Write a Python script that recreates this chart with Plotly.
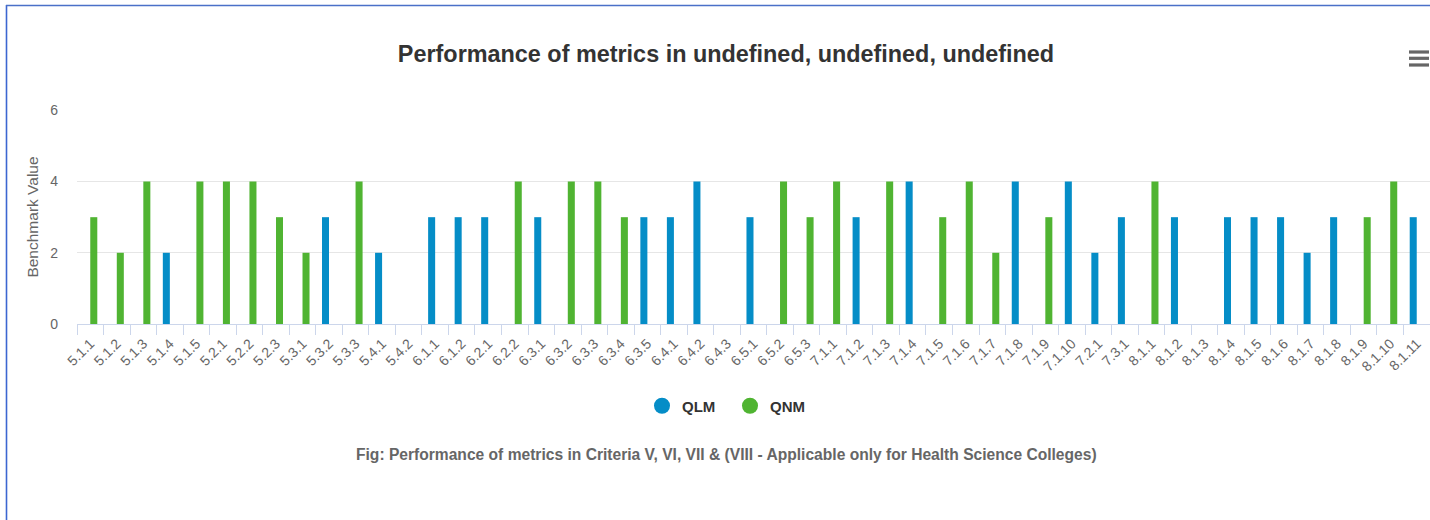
import plotly.graph_objects as go

categories = ["5.1.1", "5.1.2", "5.1.3", "5.1.4", "5.1.5", "5.2.1", "5.2.2", "5.2.3", "5.3.1", "5.3.2",
              "5.3.3", "5.4.1", "5.4.2", "6.1.1", "6.1.2", "6.2.1", "6.2.2", "6.3.1", "6.3.2", "6.3.3",
              "6.3.4", "6.3.5", "6.4.1", "6.4.2", "6.4.3", "6.5.1", "6.5.2", "6.5.3", "7.1.1", "7.1.2",
              "7.1.3", "7.1.4", "7.1.5", "7.1.6", "7.1.7", "7.1.8", "7.1.9", "7.1.10", "7.2.1", "7.3.1",
              "8.1.1", "8.1.2", "8.1.3", "8.1.4", "8.1.5", "8.1.6", "8.1.7", "8.1.8", "8.1.9", "8.1.10",
              "8.1.11"]

N = None
qlm = [N, N, N, 2, N, N, N, N, N, 3,
       N, 2, N, 3, 3, 3, N, 3, N, N,
       N, 3, 3, 4, N, 3, N, N, N, 3,
       N, 4, N, N, N, 4, N, 4, 2, 3,
       N, 3, N, 3, 3, 3, 2, 3, N, N,
       3]
qnm = [3, 2, 4, N, 4, 4, 4, 3, 2, N,
       4, N, N, N, N, N, 4, N, 4, 4,
       3, N, N, N, N, N, 4, 3, 4, N,
       4, N, 3, 4, 2, N, 3, N, N, N,
       4, N, N, N, N, N, N, N, 3, 4,
       N]

y_ticks = [0, 2, 4, 6]

BLUE = "#058DC7"
GREEN = "#50B432"
FONT = "Liberation Sans"

W, H = 1430, 520
ML, MR, MT, MB = 77, 0, 110, 196
PW = W - ML - MR
PH = H - MT - MB


def px_x(x):
    return (x - ML) / PW


def px_y(y):
    return (H - MB - y) / PH


fig = go.Figure()
fig.add_trace(go.Bar(x=categories, y=qlm, name="QLM", marker=dict(color=BLUE, line=dict(width=0)),
                     showlegend=False))
fig.add_trace(go.Bar(x=categories, y=qnm, name="QNM", marker=dict(color=GREEN, line=dict(width=0)),
                     showlegend=False))
fig.add_trace(go.Scatter(x=[None], y=[None], mode="markers", name="QLM",
                         marker=dict(size=16, color=BLUE, symbol="circle")))
fig.add_trace(go.Scatter(x=[None], y=[None], mode="markers", name="QNM",
                         marker=dict(size=16, color=GREEN, symbol="circle")))

shapes = [
    # container border (left and top)
    dict(type="line", xref="paper", yref="paper", x0=px_x(6.5), x1=px_x(6.5), y0=px_y(5), y1=px_y(H + 5),
         line=dict(color="#3c66d1", width=1.6)),
    dict(type="line", xref="paper", yref="paper", x0=px_x(6), x1=px_x(W + 5), y0=px_y(5.5), y1=px_y(5.5),
         line=dict(color="#4a70c8", width=1.3)),
]
# hamburger menu icon
for yy in (52, 58.3, 65):
    shapes.append(dict(type="rect", xref="paper", yref="paper", x0=px_x(1409), x1=px_x(1429),
                       y0=px_y(yy - 1.6), y1=px_y(yy + 1.6), fillcolor="#666666",
                       line=dict(width=0)))

fig.update_layout(
    width=W, height=H, autosize=False,
    margin=dict(l=ML, r=MR, t=MT, b=MB, pad=0),
    paper_bgcolor="white", plot_bgcolor="white",
    font=dict(family=FONT, color="#666666"),
    title=dict(text="Performance of metrics in undefined, undefined, undefined",
               x=726 / W, xref="container", xanchor="center",
               y=1 - 54 / H, yref="container", yanchor="middle",
               font=dict(family=FONT, size=23.4, color="#333333", weight="bold")),
    barmode="group", bargap=0.47, bargroupgap=0.0,
    xaxis=dict(type="category", showgrid=False, showline=True, linecolor="#ccd6eb", linewidth=1,
               ticks="outside", tickson="boundaries", ticklen=10, tickcolor="#ccd6eb",
               ticklabelstandoff=5,
               tickangle=-45, tickfont=dict(size=14, color="#666666"), fixedrange=True),
    yaxis=dict(range=[0, 6.01], tickvals=y_ticks, showgrid=True, gridcolor="#e6e6e6", gridwidth=1,
               zeroline=False, showline=False, ticks="", ticklabelstandoff=18,
               tickfont=dict(size=14, color="#666666"),
               title=dict(text="Benchmark Value", font=dict(size=15.5, color="#666666"), standoff=7),
               fixedrange=True),
    legend=dict(orientation="h", x=px_x(730), xanchor="center", y=px_y(406), yanchor="middle",
                font=dict(size=15, color="#333333", weight="bold"), itemsizing="trace",
                entrywidth=43, bgcolor="rgba(0,0,0,0)"),
    shapes=shapes,
    annotations=[dict(text="Fig: Performance of metrics in Criteria V, VI, VII & (VIII - Applicable only for Health Science Colleges)",
                      xref="paper", yref="paper", x=px_x(726), y=px_y(454), xanchor="center",
                      yanchor="middle", showarrow=False,
                      font=dict(family=FONT, size=15.6, color="#666666", weight="bold"))],
)

fig.write_html("out.html", config={"displayModeBar": False},
               post_script="document.body.style.margin='0';document.body.style.overflow='hidden';")
